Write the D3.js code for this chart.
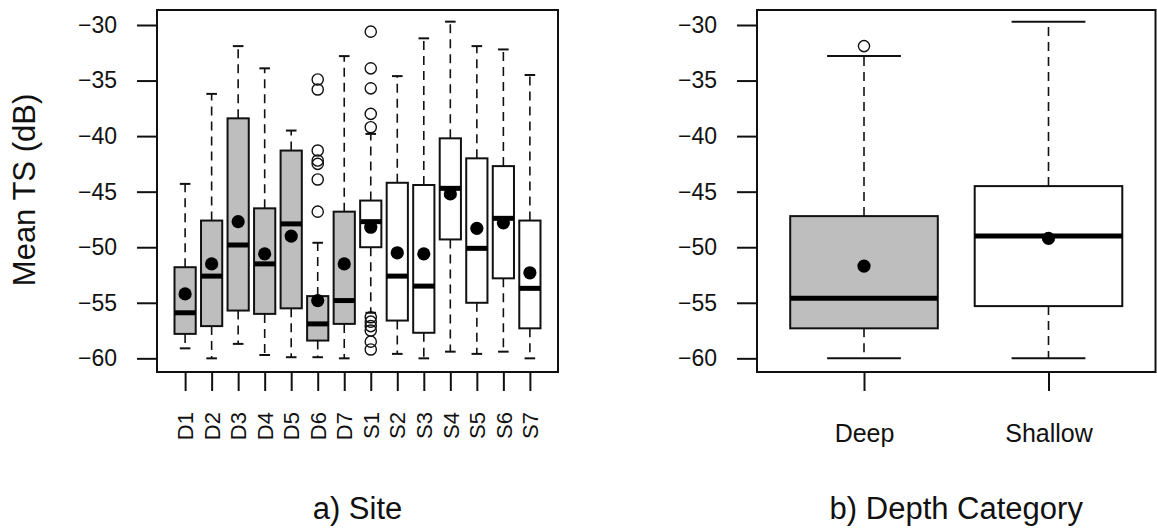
<!DOCTYPE html>
<html>
<head>
<meta charset="utf-8">
<script src="https://cdn.jsdelivr.net/npm/d3@7"></script>
<style>
  html, body { margin: 0; padding: 0; background: #fff; }
  svg { display: block; }
  text { font-family: "Liberation Sans", Arial, sans-serif; fill: #111; }
</style>
</head>
<body>
<svg id="chart" width="1157" height="529"></svg>
<script>
// ---- Panel a: TS by site ----
const sites     = ["D1","D2","D3","D4","D5","D6","D7","S1","S2","S3","S4","S5","S6","S7"];
const siteDepth = ["Deep","Deep","Deep","Deep","Deep","Deep","Deep",
                   "Shallow","Shallow","Shallow","Shallow","Shallow","Shallow","Shallow"];
const siteLowerWhisker = [-59.1, -60.0, -58.7, -59.7, -59.9, -59.9, -60.0, -55.9, -59.6, -60.0, -59.4, -59.6, -59.4, -60.0];
const siteQ1           = [-57.8, -57.1, -55.7, -56.0, -55.5, -58.4, -56.9, -50.0, -56.6, -57.7, -49.3, -55.0, -52.8, -57.3];
const siteMedian       = [-55.9, -52.6, -49.8, -51.5, -47.9, -56.9, -54.8, -47.7, -52.6, -53.5, -44.7, -50.1, -47.4, -53.7];
const siteQ3           = [-51.8, -47.6, -38.4, -46.5, -41.3, -54.4, -46.8, -45.8, -44.2, -44.4, -40.2, -42.0, -42.7, -47.6];
const siteUpperWhisker = [-44.3, -36.2, -31.9, -33.9, -39.5, -49.6, -32.8, -39.8, -34.6, -31.2, -29.7, -31.9, -32.2, -34.5];
const siteMean         = [-54.2, -51.5, -47.7, -50.6, -49.0, -54.8, -51.5, -48.2, -50.5, -50.6, -45.2, -48.3, -47.8, -52.3];
const siteOutliers     = [[], [], [], [], [],
                          [-34.9, -35.8, -41.3, -42.2, -42.5, -43.9, -46.8],
                          [],
                          [-30.6, -33.9, -35.7, -38.0, -39.2, -56.3, -56.7, -57.1, -57.5, -58.5, -59.2],
                          [], [], [], [], [], []];

// ---- Panel b: TS by depth category ----
const depthCats         = ["Deep", "Shallow"];
const depthLowerWhisker = [-60.0, -60.0];
const depthQ1           = [-57.3, -55.3];
const depthMedian       = [-54.6, -49.0];
const depthQ3           = [-47.2, -44.5];
const depthUpperWhisker = [-32.8, -29.7];
const depthMean         = [-51.7, -49.2];
const depthOutliers     = [[-31.9], []];

const yTicks = [-30, -35, -40, -45, -50, -55, -60];
const fillFor = { Deep: "#bebebe", Shallow: "#ffffff" };

const svg = d3.select("#chart");

function rows(cats, groups, lo, q1, med, q3, hi, mean, out) {
  return cats.map((c, i) => ({
    cat: c, idx: i + 1, group: groups[i],
    lo: lo[i], q1: q1[i], med: med[i], q3: q3[i], hi: hi[i], mean: mean[i], out: out[i]
  }));
}

function drawPanel(opts) {
  const { data, x0, x1, y0, y1, title, rotateLabels, labelFont } = opts;
  const n = data.length;
  const pad = n * 0.04;
  const x = d3.scaleLinear().domain([0.5 - pad, n + 0.5 + pad]).range([x0, x1]);
  const y = d3.scaleLinear().domain([-61.23, -28.65]).range([y1, y0]);
  const unit = x(2) - x(1);
  const bw = 0.8 * unit, cw = 0.4 * unit;

  const g = svg.append("g");

  // boxes
  const b = g.selectAll("g.box").data(data).join("g").attr("class", "box");
  // whiskers
  b.append("line")
    .attr("x1", d => x(d.idx)).attr("x2", d => x(d.idx))
    .attr("y1", d => y(d.q3)).attr("y2", d => y(d.hi))
    .attr("stroke", "#111").attr("stroke-width", 1.6).attr("stroke-dasharray", "9,6");
  b.append("line")
    .attr("x1", d => x(d.idx)).attr("x2", d => x(d.idx))
    .attr("y1", d => y(d.q1)).attr("y2", d => y(d.lo))
    .attr("stroke", "#111").attr("stroke-width", 1.6).attr("stroke-dasharray", "9,6");
  // staples
  ["hi", "lo"].forEach(k => {
    b.append("line")
      .attr("x1", d => x(d.idx) - cw / 2).attr("x2", d => x(d.idx) + cw / 2)
      .attr("y1", d => y(d[k])).attr("y2", d => y(d[k]))
      .attr("stroke", "#111").attr("stroke-width", 2);
  });
  // box body
  b.append("rect")
    .attr("x", d => x(d.idx) - bw / 2).attr("width", bw)
    .attr("y", d => y(d.q3)).attr("height", d => y(d.q1) - y(d.q3))
    .attr("fill", d => fillFor[d.group]).attr("stroke", "#111").attr("stroke-width", 2);
  // median
  b.append("line")
    .attr("x1", d => x(d.idx) - bw / 2).attr("x2", d => x(d.idx) + bw / 2)
    .attr("y1", d => y(d.med)).attr("y2", d => y(d.med))
    .attr("stroke", "#000").attr("stroke-width", 5);
  // outliers
  b.selectAll("circle.out").data(d => d.out.map(v => ({ idx: d.idx, v })))
    .join("circle").attr("class", "out")
    .attr("cx", d => x(d.idx)).attr("cy", d => y(d.v)).attr("r", 5.6)
    .attr("fill", "none").attr("stroke", "#111").attr("stroke-width", 1.4);
  // mean
  b.append("circle")
    .attr("cx", d => x(d.idx)).attr("cy", d => y(d.mean)).attr("r", 6.6)
    .attr("fill", "#000");

  // frame
  g.append("rect")
    .attr("x", x0).attr("y", y0).attr("width", x1 - x0).attr("height", y1 - y0)
    .attr("fill", "none").attr("stroke", "#111").attr("stroke-width", 2);

  // y axis
  const ya = g.append("g").attr("transform", `translate(${x0},0)`)
    .call(d3.axisLeft(y).tickValues(yTicks).tickSize(20).tickPadding(20).tickFormat(d3.format("d")));
  ya.select(".domain").remove();
  ya.selectAll("line").attr("stroke", "#111").attr("stroke-width", 2);
  ya.selectAll("text").attr("font-size", 23).attr("fill", "#111")
    .attr("font-family", "Liberation Sans, Arial, sans-serif");

  // x axis
  const xa = g.append("g").attr("transform", `translate(0,${y1})`)
    .call(d3.axisBottom(x).tickValues(data.map(d => d.idx)).tickSize(19)
      .tickFormat((v) => data[v - 1].cat));
  xa.select(".domain").remove();
  xa.selectAll("line").attr("stroke", "#111").attr("stroke-width", 2);
  const xt = xa.selectAll("text").attr("fill", "#111")
    .attr("font-family", "Liberation Sans, Arial, sans-serif");
  if (rotateLabels) {
    xt.attr("font-size", labelFont)
      .attr("transform", "rotate(-90)")
      .attr("text-anchor", "end").attr("dy", "0.35em")
      .attr("x", -40).attr("y", 0);
  } else {
    xt.attr("font-size", labelFont).attr("dy", 0).attr("y", 70);
  }

  // panel title
  svg.append("text")
    .attr("x", (x0 + x1) / 2).attr("y", 519)
    .attr("text-anchor", "middle").attr("font-size", 31)
    .text(title);
}

drawPanel({
  data: rows(sites, siteDepth, siteLowerWhisker, siteQ1, siteMedian, siteQ3, siteUpperWhisker, siteMean, siteOutliers),
  x0: 157, x1: 558, y0: 10, y1: 372, title: "a) Site", rotateLabels: true, labelFont: 22
});

drawPanel({
  data: rows(depthCats, depthCats, depthLowerWhisker, depthQ1, depthMedian, depthQ3, depthUpperWhisker, depthMean, depthOutliers),
  x0: 757, x1: 1155.5, y0: 10, y1: 372, title: "b) Depth Category", rotateLabels: false, labelFont: 25
});

// y axis title
svg.append("text")
  .attr("transform", "translate(35,190) rotate(-90)")
  .attr("text-anchor", "middle").attr("font-size", 31)
  .text("Mean TS (dB)");
</script>
</body>
</html>
